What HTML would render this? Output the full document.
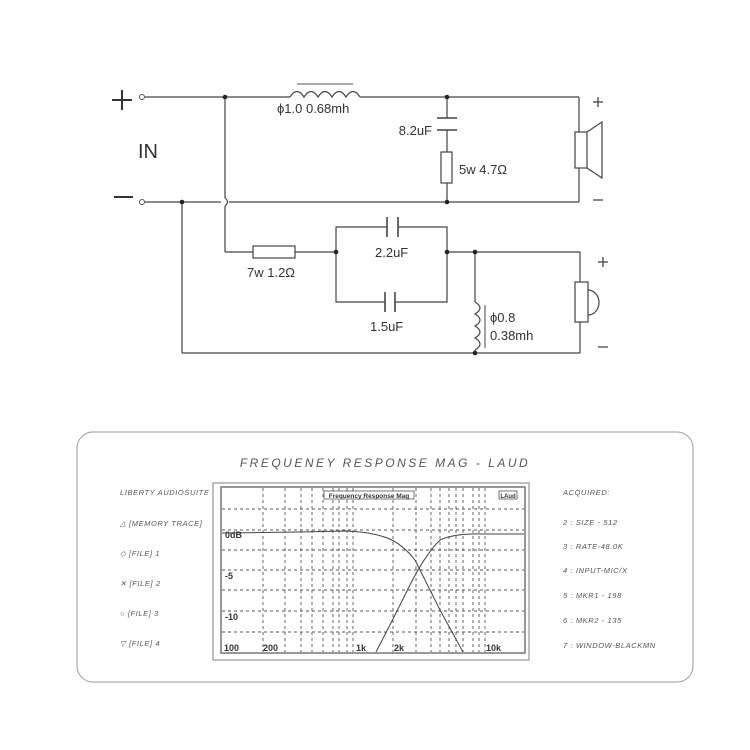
<!DOCTYPE html>
<html><head><meta charset="utf-8"><style>
html,body{margin:0;padding:0;background:#fff;}
svg{display:block;}
.t{font-family:"Liberation Sans",sans-serif;fill:#333;}
.s{font-family:"Liberation Sans",sans-serif;fill:#555;font-style:italic;font-size:7.5px;letter-spacing:0.6px;}
</style></head><body>
<svg width="750" height="750" viewBox="0 0 750 750" xmlns="http://www.w3.org/2000/svg">
<g stroke="#444" stroke-width="1.2" fill="none">
<line x1="145" y1="97" x2="290" y2="97"/>
<path d="M290 97 Q297 86 304 97 Q311 86 318 97 Q325 86 332 97 Q339 86 346 97 Q353 86 360 97"/>
<line x1="360" y1="97" x2="579" y2="97"/>
<line x1="297" y1="84" x2="353" y2="84" stroke="#777"/>
<line x1="579" y1="97" x2="579" y2="132"/>
<line x1="579" y1="168" x2="579" y2="202"/>
<rect x="575" y="132" width="12" height="36" fill="#fff"/>
<path d="M587 132 L602 122 L602 178 L587 168"/>
<line x1="447" y1="97" x2="447" y2="118"/>
<line x1="437" y1="118" x2="457" y2="118" stroke-width="1.6"/>
<line x1="437" y1="130" x2="457" y2="130" stroke-width="1.6"/>
<line x1="447" y1="130" x2="447" y2="152"/>
<rect x="441" y="152" width="11" height="31" fill="#fff"/>
<line x1="447" y1="183" x2="447" y2="202"/>
<line x1="145" y1="202" x2="221" y2="202"/>
<line x1="229" y1="202" x2="579" y2="202"/>
<line x1="225" y1="97" x2="225" y2="198"/>
<path d="M225 198 Q230 202 225 206"/>
<line x1="225" y1="206" x2="225" y2="252"/>
<line x1="225" y1="252" x2="253" y2="252"/>
<rect x="253" y="246" width="42" height="12" fill="#fff"/>
<line x1="295" y1="252" x2="336" y2="252"/>
<path d="M336 252 V227 H387 M398 227 H447 V302 H395 M385 302 H336 V252"/>
<line x1="387" y1="217" x2="387" y2="237" stroke-width="1.6"/>
<line x1="398" y1="217" x2="398" y2="237" stroke-width="1.6"/>
<line x1="385" y1="292" x2="385" y2="312" stroke-width="1.6"/>
<line x1="395" y1="292" x2="395" y2="312" stroke-width="1.6"/>
<line x1="447" y1="252" x2="580" y2="252"/>
<line x1="580" y1="252" x2="580" y2="282"/>
<rect x="575" y="282" width="13" height="40" fill="#fff"/>
<path d="M588 290 A11 12.5 0 0 1 588 315"/>
<line x1="580" y1="322" x2="580" y2="353"/>
<line x1="475" y1="252" x2="475" y2="302"/>
<path d="M475 302 Q485 308 475 314 Q485 320 475 326 Q485 332 475 338 Q485 344 475 350"/>
<line x1="475" y1="350" x2="475" y2="353"/>
<line x1="485" y1="305" x2="485" y2="348" stroke="#666"/>
<line x1="182" y1="202" x2="182" y2="353"/>
<line x1="182" y1="353" x2="580" y2="353"/>
</g>
<g fill="#222">
<circle cx="225" cy="97" r="2.3"/><circle cx="447" cy="97" r="2.3"/><circle cx="447" cy="202" r="2.3"/>
<circle cx="182" cy="202" r="2.3"/><circle cx="336" cy="252" r="2.3"/><circle cx="447" cy="252" r="2.3"/>
<circle cx="475" cy="252" r="2.3"/><circle cx="475" cy="353" r="2.3"/>
</g>
<circle cx="142" cy="97" r="2.5" fill="#fff" stroke="#555"/>
<circle cx="142" cy="202" r="2.5" fill="#fff" stroke="#555"/>
<g stroke="#333" stroke-width="2">
<line x1="112" y1="100" x2="132" y2="100"/><line x1="122" y1="90" x2="122" y2="110"/>
<line x1="114" y1="197" x2="133" y2="197"/>
</g>
<g stroke="#444" stroke-width="1.3">
<line x1="593" y1="102" x2="603" y2="102"/><line x1="598" y1="97" x2="598" y2="107"/>
<line x1="593" y1="200" x2="603" y2="200"/>
<line x1="598" y1="262" x2="608" y2="262"/><line x1="603" y1="257" x2="603" y2="267"/>
<line x1="598" y1="347" x2="608" y2="347"/>
</g>
<text class="t" x="138" y="158" font-size="20">IN</text>
<text class="t" x="277" y="113" font-size="13">ϕ1.0 0.68mh</text>
<text class="t" x="432" y="135" font-size="13" text-anchor="end">8.2uF</text>
<text class="t" x="459" y="174" font-size="13">5w 4.7Ω</text>
<text class="t" x="247" y="277" font-size="13">7w 1.2Ω</text>
<text class="t" x="375" y="257" font-size="13">2.2uF</text>
<text class="t" x="370" y="331" font-size="13">1.5uF</text>
<text class="t" x="490" y="322" font-size="13">ϕ0.8</text>
<text class="t" x="490" y="340" font-size="13">0.38mh</text>

<rect x="77" y="432" width="616" height="250" rx="16" fill="#fff" stroke="#999" stroke-width="1"/>
<text class="s" x="385" y="467" text-anchor="middle" style="font-size:12px;letter-spacing:2.5px">FREQUENEY RESPONSE MAG - LAUD</text>
<text class="s" x="120" y="495">LIBERTY AUDIOSUITE</text>
<text class="s" x="120" y="526">△ [MEMORY TRACE]</text>
<text class="s" x="120" y="556">◇ [FILE] 1</text>
<text class="s" x="120" y="586">✕ [FILE] 2</text>
<text class="s" x="120" y="616">○ [FILE] 3</text>
<text class="s" x="120" y="646">▽ [FILE] 4</text>
<text class="s" x="563" y="495">ACQUIRED:</text>
<text class="s" x="563" y="525">2 :  SIZE - 512</text>
<text class="s" x="563" y="549">3 :  RATE-48.0K</text>
<text class="s" x="563" y="573">4 : INPUT-MIC/X</text>
<text class="s" x="563" y="598">5 : MKR1 - 198</text>
<text class="s" x="563" y="623">6 : MKR2 - 135</text>
<text class="s" x="563" y="648">7 : WINDOW-BLACKMN</text>

<rect x="213" y="483" width="316" height="177" fill="#fff" stroke="#aaa" stroke-width="1.5"/>
<rect x="221" y="487" width="304" height="166" fill="#fff" stroke="#777" stroke-width="1.5"/>
<g stroke="#555" stroke-width="0.9" stroke-dasharray="3,3">
<line x1="222" y1="509" x2="524" y2="509"/><line x1="222" y1="530" x2="524" y2="530"/>
<line x1="222" y1="550" x2="524" y2="550"/><line x1="222" y1="570" x2="524" y2="570"/>
<line x1="222" y1="590" x2="524" y2="590"/><line x1="222" y1="611" x2="524" y2="611"/>
<line x1="222" y1="632" x2="524" y2="632"/>
<line x1="263" y1="488" x2="263" y2="652"/><line x1="285" y1="488" x2="285" y2="652"/>
<line x1="301" y1="488" x2="301" y2="652"/><line x1="312" y1="488" x2="312" y2="652"/>
<line x1="323" y1="488" x2="323" y2="652"/><line x1="333" y1="488" x2="333" y2="652"/>
<line x1="339" y1="488" x2="339" y2="652"/><line x1="347" y1="488" x2="347" y2="652"/>
<line x1="353" y1="488" x2="353" y2="652"/><line x1="393" y1="488" x2="393" y2="652"/>
<line x1="416" y1="488" x2="416" y2="652"/><line x1="431" y1="488" x2="431" y2="652"/>
<line x1="440" y1="488" x2="440" y2="652"/><line x1="449" y1="488" x2="449" y2="652"/>
<line x1="456" y1="488" x2="456" y2="652"/><line x1="463" y1="488" x2="463" y2="652"/>
<line x1="473" y1="488" x2="473" y2="652"/><line x1="479" y1="488" x2="479" y2="652"/>
<line x1="485" y1="488" x2="485" y2="652"/>
</g>
<rect x="324" y="491" width="90" height="8" fill="#fff" stroke="#555" stroke-width="0.8"/>
<text x="369" y="498" font-family="Liberation Sans" font-size="6.5" font-weight="bold" fill="#333" text-anchor="middle">Frequency Response Mag</text>
<rect x="499" y="491" width="18" height="8" fill="#fff" stroke="#555" stroke-width="0.8"/>
<text x="508" y="498" font-family="Liberation Sans" font-size="6" font-weight="bold" fill="#333" text-anchor="middle">LAud</text>
<g font-family="Liberation Sans" font-size="9" font-weight="bold" fill="#333">
<text x="225" y="538">0dB</text><text x="225" y="579">-5</text><text x="225" y="620">-10</text>
<text x="224" y="651">100</text><text x="263" y="651">200</text><text x="356" y="651">1k</text>
<text x="394" y="651">2k</text><text x="486" y="651">10k</text>
</g>
<g fill="none" stroke="#444" stroke-width="1">
<path d="M222 533 L300 532 L345 531 Q375 532 392 540 Q405 547 415 560 L440 610 L463 652"/>
<path d="M376 652 L393 619 L410 585 Q425 555 440 540 Q455 533 485 534 L524 534"/>
</g>
</svg>
</body></html>
